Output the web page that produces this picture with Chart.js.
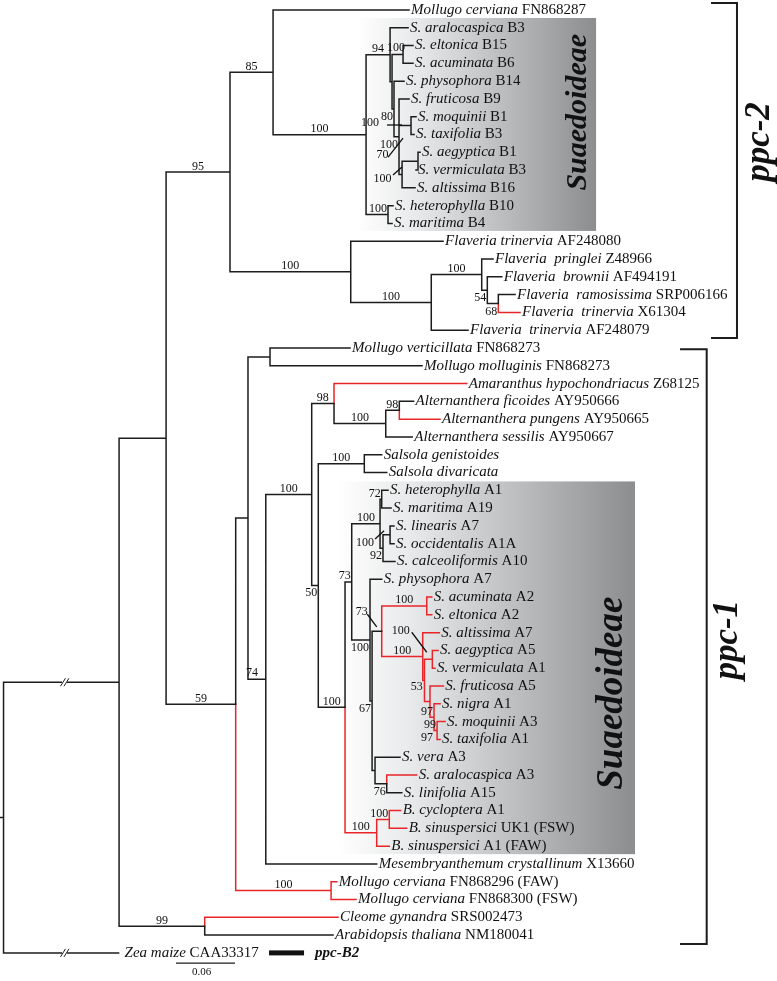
<!DOCTYPE html>
<html>
<head>
<meta charset="utf-8">
<script src="https://cdn.jsdelivr.net/npm/chart.js@4.4.1/dist/chart.umd.min.js"></script>
<style>
html,body{margin:0;padding:0;background:#fff;}
canvas{display:block;}
</style>
</head>
<body>
<canvas id="tree" width="777" height="981"></canvas>
<script>
/* -------- TIPS (top to bottom) -------- */

const taxa = [
'Mollugo cerviana','S. aralocaspica','S. eltonica','S. acuminata','S. physophora','S. fruticosa','S. moquinii','S. taxifolia','S. aegyptica','S. vermiculata','S. altissima','S. heterophylla','S. maritima',
'Flaveria trinervia','Flaveria  pringlei','Flaveria  brownii','Flaveria  ramosissima','Flaveria  trinervia','Flaveria  trinervia',
'Mollugo verticillata','Mollugo molluginis','Amaranthus hypochondriacus','Alternanthera ficoides','Alternanthera pungens','Alternanthera sessilis','Salsola genistoides','Salsola divaricata',
'S. heterophylla','S. maritima','S. linearis','S. occidentalis','S. calceoliformis','S. physophora','S. acuminata','S. eltonica','S. altissima','S. aegyptica','S. vermiculata','S. fruticosa','S. nigra','S. moquinii','S. taxifolia','S. vera','S. aralocaspica','S. linifolia',
'B. cycloptera','B. sinuspersici','B. sinuspersici','Mesembryanthemum crystallinum','Mollugo cerviana','Mollugo cerviana','Cleome gynandra','Arabidopsis thaliana','Zea maize'];

const accession = [
'FN868287','B3','B15','B6','B14','B9','B1','B3','B1','B3','B16','B10','B4',
'AF248080','Z48966','AF494191','SRP006166','X61304','AF248079',
'FN868273','FN868273','Z68125','AY950666','AY950665','AY950667','','',
'A1','A19','A7','A1A','A10','A7','A2','A2','A7','A5','A1','A5','A1','A3','A1','A3','A3','A15',
'A1','UK1 (FSW)','A1 (FAW)','X13660','FN868296 (FAW)','FN868300 (FSW)','SRS002473','NM180041','CAA33317'];

// distance from root (substitutions/site)
const tipDepth = [
0.4124,0.4114,0.4164,0.4164,0.4073,0.4124,0.4195,0.4175,0.4236,0.4195,0.4185,0.3961,0.3951,
0.4470,0.4978,0.5067,0.5202,0.5253,0.4724,
0.3524,0.4256,0.4711,0.4170,0.4439,0.4157,0.3846,0.3897,
0.3910,0.3941,0.3971,0.3971,0.3981,0.3846,0.4355,0.4355,0.4432,0.4419,0.4388,0.4473,0.4439,0.4490,0.4439,0.4032,0.4202,0.4050,
0.4039,0.4100,0.3923,0.3795,0.3389,0.3585,0.3402,0.3351,0.1170];

/* -------- INTERNAL NODES -------- */

const nodeNames = ['root','N1','N2','CA','N3','N4','MCB','BR','Bc1','Bc2','Belac','Y','Z','Bmt','Q','Bav','Bhm',
'FR','F2','F3','F4','F5','P1','Mp','P74','P311','AmAlt','Alt','FP','P318','Sal','SuA','SuA1','SuAc','HM','X','LO',
'SuA2','SuA3','RR','AE','R2','R3','AV','R4','N1a','N2a','SuA4','AL','Bien','Bcs','MCp'];

const nodeDepth = [0,0.1175,0.1653,0.2046,0.2303,0.2361,0.2741,0.3687,0.3931,0.3951,0.4063,0.3971,0.4022,0.4144,0.4053,0.4215,0.3910,
0.3531,0.4350,0.4863,0.4920,0.5032,0.2486,0.2710,0.2667,0.3134,0.3361,0.3887,0.4025,0.3201,0.3669,0.3473,0.3541,0.3829,0.3846,0.3859,0.3931,
0.3727,0.3748,0.3846,0.4304,0.4263,0.4281,0.4361,0.4337,0.4378,0.4409,0.3778,0.3897,0.3795,0.3923,0.3331];

// children: numbers are tips, strings are nodes
const nodeKids = [['N1',53],['N2','CA'],['N3','N4'],[51,52],['MCB','FR'],['P1','MCp'],[0,'BR'],['Bc1','Bhm'],[1,'Bc2'],['Belac','Y'],[2,3],[4,'Z'],[5,'Bmt','Q'],[6,7],['Bav',10],[8,9],[11,12],
[13,'F2'],['F3',18],[14,'F4'],[15,'F5'],[16,17],['Mp','P74'],[19,20],['P311',48],['AmAlt','P318'],[21,'Alt'],['FP',24],[22,23],['Sal','SuA'],[25,26],['SuA1','Bien'],['SuAc','SuA2'],['HM','X'],[27,28],['LO',31],[29,30],
[32,'SuA3'],['RR','SuA4'],['AE','R2'],[33,34],[35,'R3'],['AV','R4'],[36,37],[38,'N1a'],[39,'N2a'],[40,41],[42,'AL'],[43,44],['Bcs',47],[45,46],[49,50]];

// bootstrap
const nodeSupport = ['','','','99','95','59','85','100','94','','100','80','100','100','70','100','100',
'100','100','100','54','68','','','74','100','98','100','98','50','100','100','73','100','72','92','100',
'100','67','73','100','100','','100','53','97','99','','76','100','100','100'];

const extraSupport = ['97'];

// branches drawn in red
const redBranches = [21,23,17,51,'MCp',49,50,'Bien','Bcs',45,46,47,'AE',33,34,'R2',35,'R3','AV',36,37,'R4',38,'N1a',39,'N2a',40,41,43];

const scaleBar = 0.06;


/* -------- LAYOUT -------- */

const X_MIN = -0.0036, X_MAX = 0.7866;
const Y_MIN = -0.56, Y_MAX = 54.58;

const SERIF = "'Liberation Serif','Times New Roman',serif";
const BLACK = '#1c1c1c';
const RED = '#e8262a';

const nodes = {};
taxa.forEach((t,i)=>{ nodes[i] = {d:tipDepth[i], y:i, tip:true}; });
nodeNames.forEach((n,i)=>{ nodes[n] = {d:nodeDepth[i], kids:nodeKids[i], sup:nodeSupport[i]}; });

function placeY(key){
const n = nodes[key];
if(n.tip) return n.y;
n.kids.forEach(k=>{ nodes[k].parent = key; placeY(k); });
n.y = (nodes[n.kids[0]].y + nodes[n.kids[n.kids.length-1]].y)/2;
return n.y;
}
placeY('root');

const blackPts=[], redPts=[];
Object.keys(nodes).forEach(k=>{
const n = nodes[k];
if(n.parent===undefined) return;
const p = nodes[n.parent];
const isRed = redBranches.some(r=>String(r)===k);
const arr = isRed ? redPts : blackPts;
arr.push({x:p.d,y:p.y},{x:p.d,y:n.y},{x:n.d,y:n.y},{x:null,y:null});
});
// root stub
blackPts.push({x:X_MIN,y:nodes.root.y},{x:0,y:nodes.root.y},{x:null,y:null});

// label placement tweaks (pixels from node): centre dx,dy and optional pointer line
const labelSpots = {
Belac:[-7,-6.5],
P74:[-13.7,-6.5],
Bmt:[-41,-2.6,-24,-0.6,-9,-0.6],
Q:[-19.5,-19.5,-14,-17.5,1,-36.5],
Bav:[-35.5,17.3,-25,13.8,-16,5.8],
LO:[-25,7.7,-15,4.3,-6,-4],
RR:[-20,-19.3,-14.4,-17,-5,-4.3],
AV:[-31.5,-28.7,-20.6,-27.1,-5.6,-7.1],
R4:[-13.3,-14.6]
};
const labelBelow = ['F4','F5','P318','X','Y','Z','SuA2','SuA3','AL'];


/* -------- DECORATION -------- */

const decor = {
id:'decor',
beforeDatasetsDraw(c){
const ctx=c.ctx, xs=c.scales.x, ys=c.scales.y;
const boxes=[[0.3595,0.6026,0.45,12.42],[0.3392,0.6422,26.5,47.45]];
boxes.forEach(b=>{
const x0=xs.getPixelForValue(b[0]), x1=xs.getPixelForValue(b[1]);
const y0=ys.getPixelForValue(b[2]), y1=ys.getPixelForValue(b[3]);
const g=ctx.createLinearGradient(x0,0,x1,0);
g.addColorStop(0,'rgba(255,255,255,1)');
g.addColorStop(0.25,'rgb(232,233,234)');
g.addColorStop(1,'rgb(140,141,143)');
ctx.fillStyle=g;
ctx.fillRect(x0,y0,x1-x0,y1-y0);
});
},
afterDatasetsDraw(c){
const ctx=c.ctx, xs=c.scales.x, ys=c.scales.y;
const X=v=>xs.getPixelForValue(v), Y=v=>ys.getPixelForValue(v);
ctx.save();
ctx.fillStyle='#111';

// tip labels
ctx.textBaseline='middle';
ctx.textAlign='left';
taxa.forEach((t,i)=>{
let x=X(tipDepth[i])+(i===53?6:2);
const y=Y(i);
ctx.font='italic 15px '+SERIF;
ctx.fillText(t,x,y);
x+=ctx.measureText(t+' ').width;
ctx.font='15px '+SERIF;
if(accession[i]) ctx.fillText(accession[i],x,y);
});

// support values
ctx.font='12px '+SERIF;
ctx.strokeStyle='#111';
ctx.lineWidth=1.3;
nodeNames.forEach(k=>{
const n=nodes[k];
if(!n.sup) return;
const p=nodes[n.parent];
const nx=X(n.d), ny=Y(n.y), px=X(p.d);
const w=ctx.measureText(n.sup).width;
const s=labelSpots[k];
if(s){
ctx.textAlign='center'; ctx.textBaseline='middle';
ctx.fillText(n.sup,nx+s[0],ny+s[1]);
if(s.length>2){
ctx.beginPath(); ctx.moveTo(nx+s[2],ny+s[3]); ctx.lineTo(nx+s[4],ny+s[5]); ctx.stroke();
}
return;
}
ctx.textBaseline='alphabetic';
ctx.textAlign='center';
const cx = (nx-px >= w+6) ? (px+nx)/2 : nx-1-w/2;
const by = labelBelow.includes(k) ? ny+11 : ny-2.5;
ctx.fillText(n.sup,cx,by);
});
// second value beside S. taxifolia A1
ctx.textAlign='center'; ctx.textBaseline='middle';
ctx.fillText(extraSupport[0],X(nodes.N2a.d)-10,Y(nodes.N2a.y)+7.5);

// broken root branches
ctx.strokeStyle=BLACK; ctx.lineWidth=1;
[nodes.N1.y,53].forEach(r=>{
const bx=X(0.0625), by=Y(r);
ctx.fillStyle='#fff'; ctx.fillRect(bx-3,by-2,5,4);
[-2,1.5].forEach(o=>{
ctx.beginPath(); ctx.moveTo(bx+o-2.5,by+4); ctx.lineTo(bx+o+2.5,by-4); ctx.stroke();
});
});

// scale bar
ctx.lineWidth=1.3;
const sy=Y(53.57);
ctx.beginPath(); ctx.moveTo(X(0.1754),sy); ctx.lineTo(X(0.1754+scaleBar),sy); ctx.stroke();
ctx.fillStyle='#111';
ctx.font='11px '+SERIF; ctx.textAlign='center'; ctx.textBaseline='top';
ctx.fillText(scaleBar.toFixed(2),X(0.1754+scaleBar/2)-4,sy+4);

// ppc-B2 marker
const by2=Y(53);
ctx.fillRect(X(0.27),by2-2.5,X(0.3056)-X(0.27),5);
ctx.font='italic bold 15px '+SERIF; ctx.textAlign='left'; ctx.textBaseline='middle';
ctx.fillText('ppc-B2',X(0.3168),by2);

// brackets
ctx.lineWidth=2;
[[0.7459,0.7195,-0.39,18.44],[0.7151,0.6880,19.07,52.5]].forEach(b=>{
ctx.beginPath();
ctx.moveTo(X(b[1]),Y(b[2])); ctx.lineTo(X(b[0]),Y(b[2]));
ctx.lineTo(X(b[0]),Y(b[3])); ctx.lineTo(X(b[1]),Y(b[3]));
ctx.stroke();
});

// rotated titles
const rot=(txt,x,y,font)=>{
ctx.save(); ctx.translate(X(x),Y(y)); ctx.rotate(-Math.PI/2);
ctx.font=font; ctx.textAlign='center'; ctx.textBaseline='middle';
ctx.fillText(txt,0,0); ctx.restore();
};
ctx.fillStyle='#111';
rot('ppc-2',0.7693,7.42,'italic bold 35px '+SERIF);
rot('ppc-1',0.7368,35.4,'italic bold 35px '+SERIF);
rot('Suaedoideae',0.5842,5.75,'italic bold 30px '+SERIF);
rot('Suaedoideae',0.6188,38.4,'italic bold 37px '+SERIF);

ctx.restore();
}
};


/* -------- CHART -------- */

const lineStyle = {showLine:true, pointRadius:0, borderWidth:1.5, spanGaps:false,
borderCapStyle:'square', borderJoinStyle:'miter', tension:0};

new Chart(document.getElementById('tree'),{
type:'scatter',
data:{
datasets:[
Object.assign({data:blackPts, borderColor:BLACK}, lineStyle),
Object.assign({data:redPts, borderColor:RED}, lineStyle)
]
},
options:{
responsive:false,
animation:false,
events:[],
layout:{padding:0},
plugins:{legend:{display:false}, tooltip:{enabled:false}},
scales:{
x:{type:'linear', display:false, min:X_MIN, max:X_MAX},
y:{type:'linear', display:false, min:Y_MIN, max:Y_MAX, reverse:true}
}
},
plugins:[decor]
});
</script>
</body>
</html>
